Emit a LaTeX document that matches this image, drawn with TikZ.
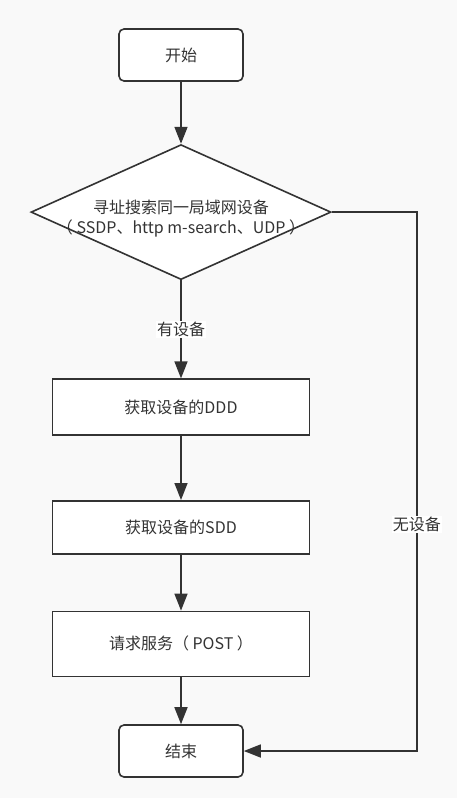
\documentclass[tikz,border=0pt]{standalone}
\usepackage{fontspec}
\setmainfont{Noto Sans CJK SC}
\usepackage{tikz}
\usepackage{xcolor}
\usetikzlibrary{shapes,arrows,arrows.meta,positioning,calc}

\definecolor{bggray}{HTML}{F9F9F9}
\definecolor{inkgray}{HTML}{333333}

\begin{document}
\begin{tikzpicture}[
    x=1pt, y=1pt,
    font=\fontsize{16}{20}\selectfont,
    >={Triangle[length=17pt, width=13pt]},
    terminal/.style={rectangle, rounded corners=5pt, draw=inkgray, line width=1.6pt, fill=white, text=inkgray, minimum width=124pt, minimum height=52pt},
    process/.style={rectangle, draw=inkgray, line width=1.6pt, fill=white, text=inkgray, minimum width=257pt},
    decision/.style={diamond, draw=inkgray, line width=1.6pt, fill=white, inner sep=0pt, minimum width=300pt, minimum height=135pt},
    flow/.style={->, draw=inkgray, line width=1.6pt},
    tag/.style={fill=white, text=inkgray, inner sep=1pt}
]
    \useasboundingbox[fill=bggray] (0,0) rectangle (457,-798);

    % Main column
    \node[terminal] (start) at (181,-55) {开始};
    \node[decision, below=62pt of start] (search) {};
    \node[text=inkgray, align=center, yshift=-6pt] (searchtext) at (search) {寻址搜索同一局域网设备\\（ SSDP、http m-search、UDP ）};
    \node[process, minimum height=56pt, below=98pt of search] (ddd) {获取设备的DDD};
    \node[process, minimum height=53pt, below=64pt of ddd] (sdd) {获取设备的SDD};
    \node[process, minimum height=65pt, below=56pt of sdd] (post) {请求服务（ POST ）};
    \node[terminal, below=47pt of post] (end) {结束};

    % Regular flow
    \draw[flow] (start) -- (search);
    \draw[flow] (search) -- node[tag] {有设备} (ddd);
    \draw[flow] (ddd) -- (sdd);
    \draw[flow] (sdd) -- (post);
    \draw[flow] (post) -- (end);

    % No device found
    \coordinate[right=85pt of search.east] (nodevice);
    \draw[flow] (search.east) -- (nodevice) |- node[tag, pos=0.29] {无设备} (end.east);
\end{tikzpicture}
\end{document}
